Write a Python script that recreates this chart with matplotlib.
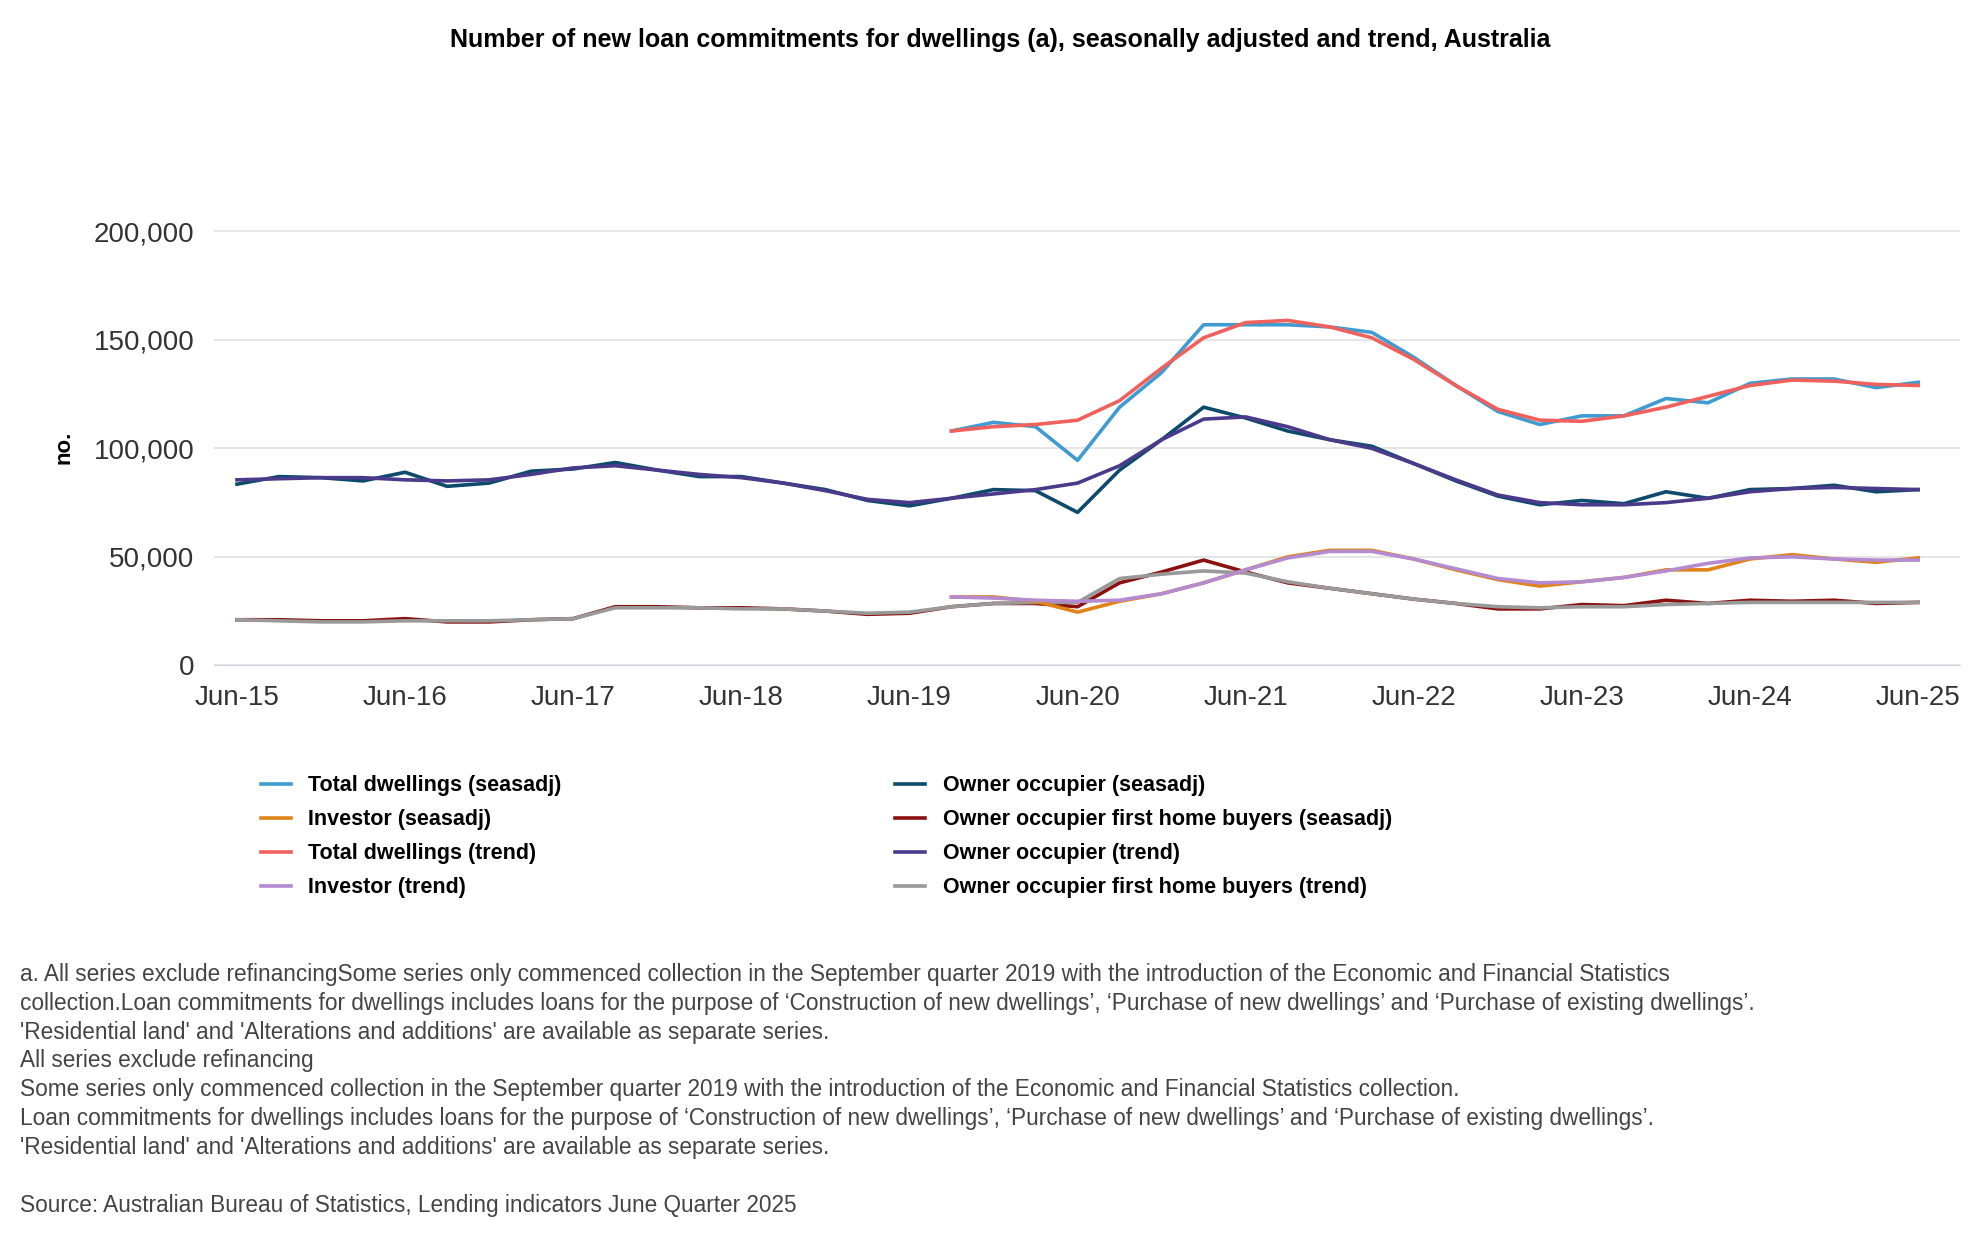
import matplotlib.pyplot as plt
import numpy as np

print("Building data...")

quarters = []
for y in range(15, 26):
    for m in ["Mar", "Jun", "Sep", "Dec"]:
        quarters.append(f"{m}-{y}")
quarters = quarters[1:42]  # Jun-15 .. Jun-25

pad = [None] * 17  # series starting Sep-19

series = {
        "Total dwellings (seasadj)": (pad + [108, 112, 110, 94.5, 119, 135, 157, 157, 157, 156, 153.5, 142, 129, 117, 111, 115, 115, 123, 121, 130, 132, 132, 128, 130.5], "#3f9bd0"),
        "Investor (seasadj)": (pad + [31.5, 31.5, 29.5, 24.5, 29.5, 33, 38, 44, 50, 53, 53, 49, 44, 39.5, 36.5, 38.5, 40.5, 44, 44, 49, 51, 49, 47.5, 49.5], "#e0841a"),
        "Total dwellings (trend)": (pad + [108, 110, 111, 113, 122, 137, 151, 158, 159, 156, 151, 141, 129, 118, 113, 112.5, 115, 119, 124, 129, 131.5, 131, 129.5, 129], "#f0605d"),
        "Investor (trend)": (pad + [31.5, 31, 30, 29.5, 30, 33, 38, 44, 49.5, 52.5, 52.5, 49, 44.5, 40, 38, 38.5, 40.5, 43.5, 47, 49.5, 50, 49, 48.5, 48.5], "#b48ad0"),
        "Owner occupier (seasadj)": ([83.5, 87, 86.5, 85, 89, 82.5, 84, 89.5, 90.5, 93.5, 90, 87, 87, 84, 81, 76, 73.5, 77, 81, 80.5, 70.5, 90, 104, 119, 114, 108, 104, 101, 93, 85, 78, 74, 76, 74.5, 80, 77, 81, 81.5, 83, 80, 81], "#0e4a6b"),
        "Owner occupier first home buyers (seasadj)": ([21, 21, 20.5, 20.5, 21.5, 20, 20, 21, 21.5, 27, 27, 26.5, 26.5, 26, 25, 23.5, 24, 27, 28.5, 28.5, 27, 38, 43, 48.5, 43, 38, 35.5, 33, 30.5, 28.5, 26, 26, 28, 27.5, 30, 28.5, 30, 29.5, 30, 28.5, 29], "#8b1010"),
        "Owner occupier (trend)": ([85.5, 86, 86.5, 86.5, 85.5, 85, 85.5, 88, 91, 92, 90, 88, 86.5, 84, 80.5, 76.5, 75, 77, 79, 81, 84, 92, 104, 113.5, 114.5, 110, 104, 100, 93, 85.5, 78.5, 75, 74, 74, 75, 77, 80, 81.5, 82, 81.5, 81], "#4b3a8c"),
        "Owner occupier first home buyers (trend)": ([21, 20.5, 20, 20, 20.5, 20.5, 20.5, 21, 21.5, 26.5, 26.5, 26.5, 26, 26, 25, 24, 24.5, 27, 28.5, 29, 29, 40, 42, 43.5, 42.5, 38.5, 35.5, 33, 30.5, 28.5, 27, 26.5, 27, 27, 28, 28.5, 29, 29, 29, 29, 29], "#999999"),
        }

draw_order = ["Owner occupier (seasadj)", "Owner occupier (trend)", "Owner occupier first home buyers (seasadj)",
              "Owner occupier first home buyers (trend)", "Total dwellings (seasadj)", "Total dwellings (trend)",
              "Investor (seasadj)", "Investor (trend)"]

print("Plotting...")

plt.rcParams["font.family"] = ["Liberation Sans", "DejaVu Sans"]

fig, ax = plt.subplots(figsize=(19.8, 12.6), dpi=100)
fig.subplots_adjust(left=0.108, right=0.99, bottom=0.472, top=0.818)

x = np.arange(len(quarters))
lines = {}
for key in draw_order:
    vals, col = series[key]
    y = np.array([np.nan if v is None else v * 1000 for v in vals])
    lines[key], = ax.plot(x, y, color=col, linewidth=2.6, label=key)

ax.set_xlim(-0.55, 41)
ax.set_ylim(0, 201000)
ax.set_yticks([0, 50000, 100000, 150000, 200000])
ax.set_yticklabels(["0", "50,000", "100,000", "150,000", "200,000"])
ax.set_xticks(x[::4])
ax.set_xticklabels(quarters[::4])
ax.tick_params(axis="both", length=0, labelsize=20, colors="#333333", pad=14)
ax.grid(axis="y", color="#e0e0e0", linewidth=1.2)
for s in ["top", "right", "left"]:
    ax.spines[s].set_visible(False)
ax.spines["bottom"].set_color("#ccd6eb")
ax.set_ylabel("no.", fontsize=16, fontweight="bold", labelpad=14)

fig.suptitle("Number of new loan commitments for dwellings (a), seasonally adjusted and trend, Australia",
             fontsize=18, fontweight="bold", x=0.505, y=0.978)

leg_keys = list(series.keys())
fig.legend([lines[k] for k in leg_keys], leg_keys, loc="upper left", bbox_to_anchor=(0.122, 0.4),
           ncol=2, frameon=False, prop={"size": 15.5, "weight": "bold"}, handlelength=1.4,
           columnspacing=15.5, labelspacing=0.6)

notes = ("a. All series exclude refinancingSome series only commenced collection in the September quarter 2019 with the introduction of the Economic and Financial Statistics\n"
         "collection.Loan commitments for dwellings includes loans for the purpose of \u2018Construction of new dwellings\u2019, \u2018Purchase of new dwellings\u2019 and \u2018Purchase of existing dwellings\u2019.\n"
         "'Residential land' and 'Alterations and additions' are available as separate series.\n"
         "All series exclude refinancing\n"
         "Some series only commenced collection in the September quarter 2019 with the introduction of the Economic and Financial Statistics collection.\n"
         "Loan commitments for dwellings includes loans for the purpose of \u2018Construction of new dwellings\u2019, \u2018Purchase of new dwellings\u2019 and \u2018Purchase of existing dwellings\u2019.\n"
         "'Residential land' and 'Alterations and additions' are available as separate series.\n"
         "\n"
         "Source: Australian Bureau of Statistics, Lending indicators June Quarter 2025")
fig.text(0.010, 0.236, notes, fontsize=16.3, color="#444444", va="top", linespacing=1.33)

plt.savefig("out.png")

print("Done!\n\n")
